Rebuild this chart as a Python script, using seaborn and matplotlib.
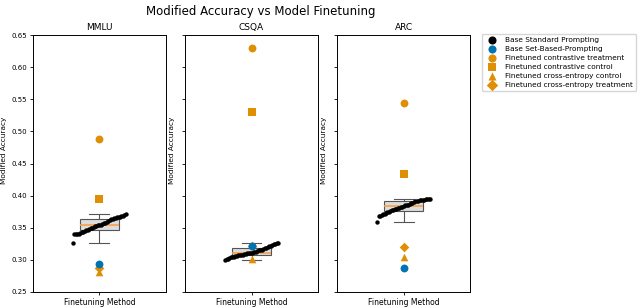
import numpy as np
import pandas as pd
import seaborn as sns
import matplotlib
matplotlib.use("Agg")
import matplotlib.pyplot as plt
from matplotlib.ticker import FormatStrFormatter

# data
datasets = ["MMLU", "CSQA", "ARC"]

mmlu_base = [0.327, 0.340, 0.340, 0.341, 0.341, 0.342, 0.343, 0.344, 0.345, 0.346,
             0.347, 0.348, 0.349, 0.350, 0.351, 0.352, 0.353, 0.354, 0.355, 0.355,
             0.356, 0.357, 0.358, 0.359, 0.360, 0.362, 0.363, 0.364, 0.365, 0.365,
             0.366, 0.366, 0.367, 0.368, 0.369, 0.370, 0.371]
csqa_base = [0.300, 0.301, 0.302, 0.303, 0.304, 0.305, 0.305, 0.306, 0.306, 0.307,
             0.307, 0.308, 0.308, 0.309, 0.309, 0.310, 0.310, 0.311, 0.311, 0.312,
             0.313, 0.313, 0.314, 0.315, 0.315, 0.316, 0.317, 0.318, 0.319, 0.320,
             0.321, 0.322, 0.323, 0.324, 0.325, 0.326, 0.327]
arc_base = [0.359, 0.368, 0.369, 0.370, 0.371, 0.372, 0.373, 0.374, 0.375, 0.376,
            0.377, 0.378, 0.379, 0.380, 0.381, 0.381, 0.382, 0.383, 0.384, 0.385,
            0.386, 0.386, 0.387, 0.388, 0.389, 0.390, 0.391, 0.392, 0.392, 0.393,
            0.393, 0.394, 0.394, 0.395, 0.395, 0.395, 0.395]
base_standard = [mmlu_base, csqa_base, arc_base]

set_based = [0.294, 0.321, 0.288]
ft_contrastive_treatment = [0.488, 0.630, 0.544]
ft_contrastive_control = [0.395, 0.531, 0.434]
ft_ce_control = [0.281, 0.301, 0.305]
ft_ce_treatment = [0.287, 0.322, 0.320]

blue = "#0173b2"
orange = "#de8f05"

fig, axes = plt.subplots(1, 3, figsize=(6.4, 3.08), dpi=100, sharey=True)
fig.subplots_adjust(left=0.052, right=0.734, bottom=0.052, top=0.886, wspace=0.15)

for i, ax in enumerate(axes):
    vals = base_standard[i]
    df = pd.DataFrame({"method": "Finetuning Method", "acc": vals})
    sns.boxplot(data=df, x="method", y="acc", ax=ax, width=0.3, showfliers=False,
                color="#dcdcdc", linecolor="#555555", linewidth=0.8, saturation=1,
                medianprops=dict(color="#f5a04a", linewidth=1.2))
    # sorted base points spread across the box
    xs = np.linspace(-0.2, 0.2, len(vals))
    sns.scatterplot(x=xs, y=sorted(vals), ax=ax, color="black", s=10, linewidth=0,
                    zorder=3, label="Base Standard Prompting")
    sns.scatterplot(x=[0], y=[ft_contrastive_treatment[i]], ax=ax, color=orange, marker="o",
                    s=32, linewidth=0, zorder=4, label="Finetuned contrastive treatment")
    sns.scatterplot(x=[0], y=[ft_contrastive_control[i]], ax=ax, color=orange, marker="s",
                    s=30, linewidth=0, zorder=4, label="Finetuned contrastive control")
    sns.scatterplot(x=[0], y=[ft_ce_control[i]], ax=ax, color=orange, marker="^",
                    s=30, linewidth=0, zorder=4, label="Finetuned cross-entropy control")
    sns.scatterplot(x=[0], y=[ft_ce_treatment[i]], ax=ax, color=orange, marker="D",
                    s=24, linewidth=0, zorder=4, label="Finetuned cross-entropy treatment")
    sns.scatterplot(x=[0], y=[set_based[i]], ax=ax, color=blue, marker="o",
                    s=32, linewidth=0, zorder=5, label="Base Set-Based-Prompting")

    ax.set_title(datasets[i], fontsize=6.5, pad=4)
    ax.set_xlabel("")
    ax.set_ylabel("Modified Accuracy", fontsize=5.3)
    ax.yaxis.label.set_visible(True)
    ax.set_xlim(-0.5, 0.5)
    ax.set_ylim(0.25, 0.65)
    ax.set_yticks(np.arange(0.25, 0.651, 0.05))
    ax.tick_params(axis="y", labelsize=5, length=2.5, width=0.6, pad=2)
    ax.tick_params(axis="x", labelsize=5.5, length=2.5, width=0.6, pad=2)
    ax.yaxis.set_tick_params(labelleft=(i == 0))
    for sp in ax.spines.values():
        sp.set_linewidth(0.7)
    ax.get_legend().remove()

axes[0].yaxis.set_major_formatter(FormatStrFormatter("%.2f"))
axes[0].yaxis.set_label_coords(-0.20, 0.55)
axes[1].yaxis.set_label_coords(-0.076, 0.55)
axes[2].yaxis.set_label_coords(-0.076, 0.55)

handles, labels = axes[-1].get_legend_handles_labels()
order = ["Base Standard Prompting", "Base Set-Based-Prompting",
         "Finetuned contrastive treatment", "Finetuned contrastive control",
         "Finetuned cross-entropy control", "Finetuned cross-entropy treatment"]
hmap = dict(zip(labels, handles))
leg = fig.legend([hmap[l] for l in order], order, loc="upper left",
                 bbox_to_anchor=(0.753, 0.890), fontsize=5.3, frameon=True,
                 borderpad=0.4, labelspacing=0.38, handletextpad=0.8, handlelength=2.0,
                 borderaxespad=0)
# equal-sized markers in the legend
for h in leg.legend_handles:
    h.set_sizes([34])

fig.suptitle("Modified Accuracy vs Model Finetuning", fontsize=8.5, x=0.408, y=0.985)

plt.savefig("out.png", dpi=100)
